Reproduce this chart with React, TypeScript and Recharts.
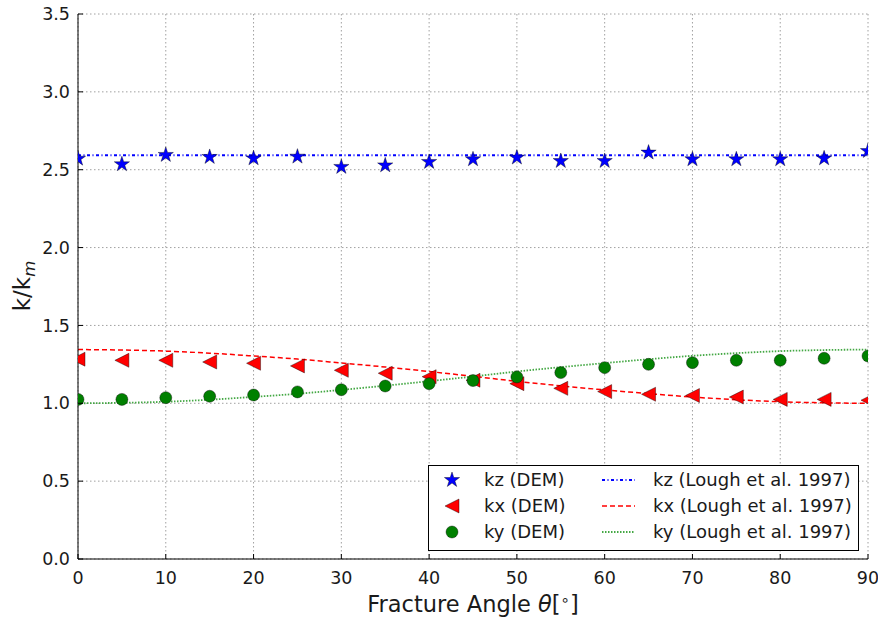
import React from 'react'
import { ComposedChart, Line, Scatter, XAxis, YAxis, CartesianGrid, Legend } from 'recharts'

// fracture angle (degrees)
const angles = [0, 5, 10, 15, 20, 25, 30, 35, 40, 45, 50, 55, 60, 65, 70, 75, 80, 85, 90]

// DEM results
const kzDem = [2.571, 2.535, 2.595, 2.582, 2.573, 2.584, 2.518, 2.528, 2.55, 2.567, 2.578, 2.556, 2.556, 2.61, 2.567, 2.567, 2.567, 2.573, 2.62]
const kxDem = [1.283, 1.276, 1.276, 1.265, 1.257, 1.24, 1.212, 1.193, 1.171, 1.148, 1.126, 1.096, 1.075, 1.058, 1.05, 1.04, 1.025, 1.025, 1.02]
const kyDem = [1.025, 1.025, 1.036, 1.045, 1.053, 1.073, 1.087, 1.111, 1.126, 1.146, 1.169, 1.197, 1.229, 1.25, 1.261, 1.276, 1.276, 1.289, 1.304]

// Lough et al. 1997 curves, read at the same angles
const kzLough = [2.593, 2.593, 2.593, 2.593, 2.593, 2.593, 2.593, 2.593, 2.593, 2.593, 2.593, 2.593, 2.593, 2.593, 2.593, 2.593, 2.593, 2.593, 2.593]
const kxLough = [1.345, 1.342, 1.335, 1.322, 1.304, 1.284, 1.259, 1.233, 1.204, 1.173, 1.141, 1.112, 1.086, 1.062, 1.04, 1.023, 1.01, 1.003, 1.0]
const kyLough = [1.0, 1.003, 1.01, 1.023, 1.041, 1.061, 1.086, 1.113, 1.142, 1.172, 1.204, 1.232, 1.258, 1.283, 1.305, 1.322, 1.335, 1.342, 1.345]

const xTicks = [0, 10, 20, 30, 40, 50, 60, 70, 80, 90]
const yTicks = [0, 0.5, 1, 1.5, 2, 2.5, 3, 3.5]

const demRows = angles.map((a, i) => ({ angle: a, kz: kzDem[i], kx: kxDem[i], ky: kyDem[i] }))
const loughRows = angles.map((a, i) => ({ angle: a, kz: kzLough[i], kx: kxLough[i], ky: kyLough[i] }))

const FONT = "'DejaVu Sans', sans-serif"
const BLUE = '#0000ff'
const RED = '#ff0000'
const GREEN = '#008000'
const LIGHT_GREEN = '#44a844'

const starPoints = (cx: number, cy: number, R: number) => {
  const r = R * 0.382
  const pts: string[] = []
  for (let k = 0; k < 10; k++) {
    const rad = k % 2 === 0 ? R : r
    const ang = -Math.PI / 2 + (k * Math.PI) / 5
    pts.push(`${cx + rad * Math.cos(ang)},${cy + rad * Math.sin(ang)}`)
  }
  return pts.join(' ')
}

const StarMark = ({ cx, cy }: any) => (
  <polygon points={starPoints(cx, cy, 8)} fill={BLUE} stroke='#000' strokeWidth={0.4} />
)
const TriMark = ({ cx, cy }: any) => (
  <polygon points={`${cx - 7},${cy} ${cx + 7},${cy - 7} ${cx + 7},${cy + 7}`} fill={RED} stroke='#000' strokeWidth={0.4} />
)
const DotMark = ({ cx, cy }: any) => <circle cx={cx} cy={cy} r={6} fill={GREEN} stroke='#000' strokeWidth={0.4} />

const BottomTick = ({ x, y, payload }: any) => (
  <g>
    <line x1={x} y1={y} x2={x} y2={y - 5} stroke='#000' />
    <text x={x} y={y + 19} dy='0.35em' textAnchor='middle' fontSize={17.5} fontFamily={FONT} fill='#1a1a1a'>
      {payload.value}
    </text>
  </g>
)
const TopTick = ({ x, y }: any) => <line x1={x} y1={y} x2={x} y2={y + 5} stroke='#000' />
const LeftTick = ({ x, y, payload }: any) => (
  <g>
    <line x1={x} y1={y} x2={x + 5} y2={y} stroke='#000' />
    <text x={x - 8} y={y} dy='0.35em' textAnchor='end' fontSize={17.5} fontFamily={FONT} fill='#1a1a1a'>
      {Number(payload.value).toFixed(1)}
    </text>
  </g>
)
const RightTick = ({ x, y }: any) => <line x1={x} y1={y} x2={x - 5} y2={y} stroke='#000' />

const YTitle = () => (
  <text x={22} y={286} transform='rotate(-90 22 286)' textAnchor='middle' dy='0.35em' fontSize={23} fontFamily={FONT} fill='#1a1a1a'>
    k/k<tspan fontStyle='italic' fontSize={16.5} dy={5}>m</tspan>
  </text>
)
const XTitle = () => (
  <text x={473} y={604} textAnchor='middle' dy='0.35em' fontSize={22.5} fontFamily={FONT} fill='#1a1a1a'>
    Fracture Angle <tspan fontStyle='italic'>θ</tspan>[<tspan fontSize={15} dy={-7}>∘</tspan><tspan dy={7}>]</tspan>
  </text>
)

const legendRows = [
  { dem: 'kz (DEM)', lough: 'kz (Lough et al. 1997)', color: BLUE, dash: '3 2.5 1 2.5', lw: 2, mark: 'star' },
  { dem: 'kx (DEM)', lough: 'kx (Lough et al. 1997)', color: RED, dash: '5 3', lw: 1.5, mark: 'tri' },
  { dem: 'ky (DEM)', lough: 'ky (Lough et al. 1997)', color: LIGHT_GREEN, dash: '1.5 1.5', lw: 1.8, mark: 'dot' }
]

const renderLegend = () => (
  <svg width={431} height={86} style={{ display: 'block' }}>
    <rect x={0.5} y={0.5} width={430} height={85} fill='#fff' stroke='#000' />
    {legendRows.map((r, i) => {
      const cy = 15 + i * 26
      return (
        <g key={r.dem}>
          {r.mark === 'star' && <StarMark cx={24} cy={cy} />}
          {r.mark === 'tri' && <TriMark cx={24} cy={cy} />}
          {r.mark === 'dot' && <DotMark cx={24} cy={cy} />}
          <text x={56} y={cy} dy='0.35em' fontSize={18} fontFamily={FONT} fill='#1a1a1a'>{r.dem}</text>
          <line x1={174} y1={cy} x2={207} y2={cy} stroke={r.color} strokeWidth={r.lw} strokeDasharray={r.dash} />
          <text x={225} y={cy} dy='0.35em' fontSize={18} fontFamily={FONT} fill='#1a1a1a'>{r.lough}</text>
        </g>
      )
    })}
  </svg>
)

export default function App() {
  return (
    <div style={{ position: 'absolute', left: 0, top: 0, background: '#fff' }}>
      <ComposedChart width={878} height={623} margin={{ top: 14, right: 10, left: 0, bottom: 0 }}>
        <CartesianGrid xAxisId='b' yAxisId='l' stroke='#a0a0a0' strokeDasharray='1.5 2.5' />
        <XAxis xAxisId='b' dataKey='angle' type='number' domain={[0, 90]} ticks={xTicks} allowDataOverflow
          height={64} tickSize={0} tickMargin={0} tickLine={false} tick={BottomTick} axisLine={{ stroke: '#000' }}
          label={{ content: XTitle }} />
        <XAxis xAxisId='t' orientation='top' dataKey='angle' type='number' domain={[0, 90]} ticks={xTicks} allowDataOverflow
          height={0} tickSize={0} tickMargin={0} tickLine={false} tick={TopTick} axisLine={{ stroke: '#000' }} />
        <YAxis yAxisId='l' type='number' domain={[0, 3.5]} ticks={yTicks} allowDataOverflow
          width={78} tickSize={0} tickMargin={0} tickLine={false} tick={LeftTick} axisLine={{ stroke: '#000' }} label={{ content: YTitle }} />
        <YAxis yAxisId='r' orientation='right' type='number' domain={[0, 3.5]} ticks={yTicks} allowDataOverflow
          width={0} tickSize={0} tickMargin={0} tickLine={false} tick={RightTick} axisLine={{ stroke: '#000' }} />

        <Scatter xAxisId='b' yAxisId='l' data={demRows} dataKey='kz' shape={StarMark} isAnimationActive={false} />
        <Scatter xAxisId='b' yAxisId='l' data={demRows} dataKey='kx' shape={TriMark} isAnimationActive={false} />
        <Scatter xAxisId='b' yAxisId='l' data={demRows} dataKey='ky' shape={DotMark} isAnimationActive={false} />

        <Line xAxisId='b' yAxisId='l' data={loughRows} dataKey='kz' type='monotone' stroke={BLUE} strokeWidth={2}
          strokeDasharray='3 2.5 1 2.5' dot={false} activeDot={false} isAnimationActive={false} />
        <Line xAxisId='b' yAxisId='l' data={loughRows} dataKey='kx' type='monotone' stroke={RED} strokeWidth={1.5}
          strokeDasharray='5 3' dot={false} activeDot={false} isAnimationActive={false} />
        <Line xAxisId='b' yAxisId='l' data={loughRows} dataKey='ky' type='monotone' stroke={LIGHT_GREEN} strokeWidth={1.8}
          strokeDasharray='1.5 1.5' dot={false} activeDot={false} isAnimationActive={false} />

        <Legend layout='horizontal' verticalAlign='middle' align='center' content={renderLegend}
          wrapperStyle={{ left: 428, top: 465, width: 431, height: 86 }} />
      </ComposedChart>
    </div>
  )
}
